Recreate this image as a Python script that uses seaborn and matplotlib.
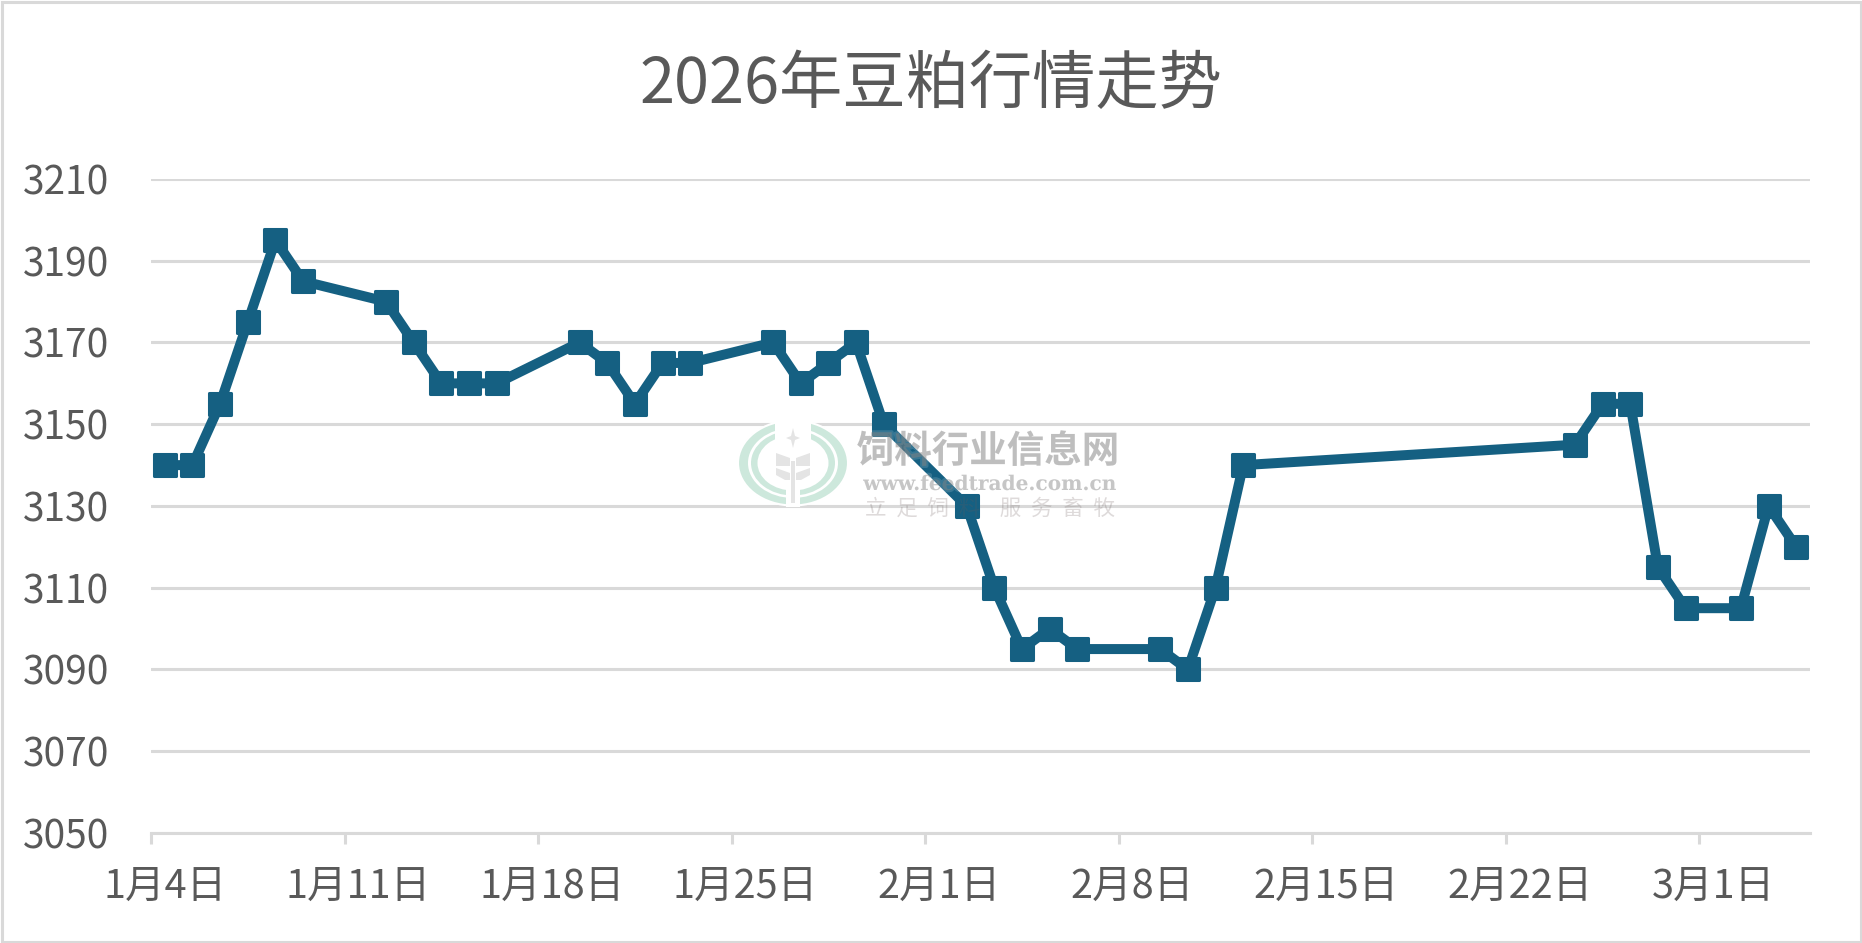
import matplotlib
matplotlib.use('Agg')

import matplotlib.pyplot as plt
import matplotlib.patheffects as pe
from matplotlib.markers import MarkerStyle
from matplotlib.patches import Ellipse, Rectangle, Polygon
import pandas as pd
import seaborn as sns

dates = [
    '2026-01-04', '2026-01-05', '2026-01-06', '2026-01-07', '2026-01-08', '2026-01-09',
    '2026-01-12', '2026-01-13', '2026-01-14', '2026-01-15', '2026-01-16',
    '2026-01-19', '2026-01-20', '2026-01-21', '2026-01-22', '2026-01-23',
    '2026-01-26', '2026-01-27', '2026-01-28', '2026-01-29', '2026-01-30',
    '2026-02-02', '2026-02-03', '2026-02-04', '2026-02-05', '2026-02-06',
    '2026-02-09', '2026-02-10', '2026-02-11', '2026-02-12',
    '2026-02-24', '2026-02-25', '2026-02-26', '2026-02-27', '2026-02-28',
    '2026-03-02', '2026-03-03', '2026-03-04',
]
prices = [
    3140, 3140, 3155, 3175, 3195, 3185,
    3180, 3170, 3160, 3160, 3160,
    3170, 3165, 3155, 3165, 3165,
    3170, 3160, 3165, 3170, 3150,
    3130, 3110, 3095, 3100, 3095,
    3095, 3090, 3110, 3140,
    3145, 3155, 3155, 3115, 3105,
    3105, 3130, 3120,
]
tick_dates = ['2026-01-04', '2026-01-11', '2026-01-18', '2026-01-25', '2026-02-01',
              '2026-02-08', '2026-02-15', '2026-02-22', '2026-03-01']
tick_labels = ['1月4日', '1月11日', '1月18日', '1月25日', '2月1日',
               '2月8日', '2月15日', '2月22日', '3月1日']
y_ticks = [3050, 3070, 3090, 3110, 3130, 3150, 3170, 3190, 3210]

title = '2026年豆粕行情走势'
wm_name = '饲料行业信息网'
wm_url = 'www.feedtrade.com.cn'
wm_slogan = '立  足  饲  料    服  务  畜  牧'

GREY = '#595959'
LIGHT = '#D9D9D9'
BLUE = '#156082'
WM_GREEN = '#CDE8DC'
WM_GREY = '#E4E4E4'

sns.set_theme(style='white')
plt.rcParams['font.family'] = ['Noto Sans CJK SC', 'DejaVu Sans']

W, H = 1862, 943
fig = plt.figure(figsize=(W / 100, H / 100), dpi=100, facecolor='white')
ax = fig.add_axes([151 / W, 1 - 833 / H, (1810 - 151) / W, (833 - 179) / H])

# excel date axis: each day is a slot, the point sits in the middle of it
start = pd.Timestamp(tick_dates[0])
df = pd.DataFrame({
    'day': [(pd.Timestamp(d) - start).days + 0.5 for d in dates],
    'price': prices,
})
sns.lineplot(data=df, x='day', y='price', ax=ax, color=BLUE, linewidth=7.2,
             marker='s', markersize=16, markeredgewidth=2.2,
             markeredgecolor=BLUE, markerfacecolor=BLUE, zorder=3,
             errorbar=None, sort=False)
ax.lines[0].set_marker(MarkerStyle('s', joinstyle='round'))

ax.set_xlim(0, 60)
ax.set_ylim(3050, 3210)
ax.set_xlabel('')
ax.set_ylabel('')

tick_pos = [(pd.Timestamp(d) - start).days for d in tick_dates]
ax.set_xticks(tick_pos)
ax.set_xticklabels([])
ax.set_yticks(y_ticks)
ax.tick_params(axis='y', left=False, pad=24, labelsize=28, labelcolor=GREY)
for lab in ax.get_yticklabels():
    lab.set_fontweight('light')
ax.tick_params(axis='x', bottom=True, length=8, width=2.2, color=LIGHT, direction='out')
for p, lab in zip(tick_pos, tick_labels):
    ax.annotate(lab, (p + 0.5, 0), xycoords=('data', 'axes fraction'),
                xytext=(0, -54), textcoords='offset pixels',
                ha='center', va='center', fontsize=28.5, color=GREY, fontweight='light')

ax.grid(axis='y', color=LIGHT, linewidth=2.2)
ax.set_axisbelow(True)
for side in ['top', 'right', 'left']:
    ax.spines[side].set_visible(False)
ax.spines['bottom'].set_color(LIGHT)
ax.spines['bottom'].set_linewidth(2.2)

# overlay in pixel coords for the chart border and the watermark
ov = fig.add_axes([0, 0, 1, 1], facecolor='none')
ov.set_xlim(0, W)
ov.set_ylim(H, 0)
ov.axis('off')
ov.add_patch(Rectangle((1.5, 1.5), W - 3, H - 3, fill=False, ec=LIGHT, lw=2.2))
ov.text(931, 85, title, ha='center', va='center', fontsize=45.5, color=GREY, fontweight='light')

# logo
cx, cy = 793, 463
ov.add_patch(Ellipse((cx, cy), 110, 85, fc=WM_GREEN, ec='white', lw=1.5))
ov.add_patch(Ellipse((cx, cy), 90, 70, fc='white', ec='none'))
ov.add_patch(Ellipse((cx, cy), 84, 65, fc=WM_GREEN, ec='none'))
ov.add_patch(Ellipse((cx, cy), 71, 55, fc='white', ec='none'))
ov.add_patch(Rectangle((cx - 18, cy - 44), 36, 40, fc='white', ec='none'))
ov.add_patch(Rectangle((cx - 7, cy + 20), 14, 24, fc='white', ec='none'))
ov.add_patch(Polygon([(cx, cy - 35), (cx + 2, cy - 27), (cx + 7, cy - 25), (cx + 2, cy - 23),
                      (cx, cy - 15), (cx - 2, cy - 23), (cx - 7, cy - 25), (cx - 2, cy - 27)],
                     fc=WM_GREY, ec='none'))
ov.add_patch(Polygon([(cx - 3, cy - 5), (cx - 17, cy - 10), (cx - 17, cy + 3), (cx - 3, cy + 3)],
                     fc=WM_GREY, ec='none'))
ov.add_patch(Polygon([(cx + 3, cy - 5), (cx + 17, cy - 10), (cx + 17, cy + 3), (cx + 3, cy + 3)],
                     fc=WM_GREY, ec='none'))
ov.add_patch(Polygon([(cx - 3, cy + 10), (cx - 17, cy + 5), (cx - 17, cy + 12), (cx - 8, cy + 17), (cx - 3, cy + 17)],
                     fc=WM_GREY, ec='none'))
ov.add_patch(Polygon([(cx + 3, cy + 10), (cx + 17, cy + 5), (cx + 17, cy + 12), (cx + 8, cy + 17), (cx + 3, cy + 17)],
                     fc=WM_GREY, ec='none'))
ov.add_patch(Rectangle((cx - 2, cy - 2), 4, 42, fc=WM_GREY, ec='none'))

halo = [pe.withStroke(linewidth=3, foreground='white', alpha=0.15)]
ov.text(988, 451, wm_name, ha='center', va='center', fontsize=27, fontweight='bold',
        color='#7F7F7F', alpha=0.42, path_effects=halo)
ov.text(990, 484, wm_url, ha='center', va='center', fontsize=14.5, fontweight='bold',
        family='DejaVu Serif', color='#7F7F7F', alpha=0.35, path_effects=halo)
ov.text(990, 509, wm_slogan, ha='center', va='center', fontsize=15.5,
        color='#6A5A5A', alpha=0.22)

fig.savefig('out.png', dpi=100, facecolor='white')
